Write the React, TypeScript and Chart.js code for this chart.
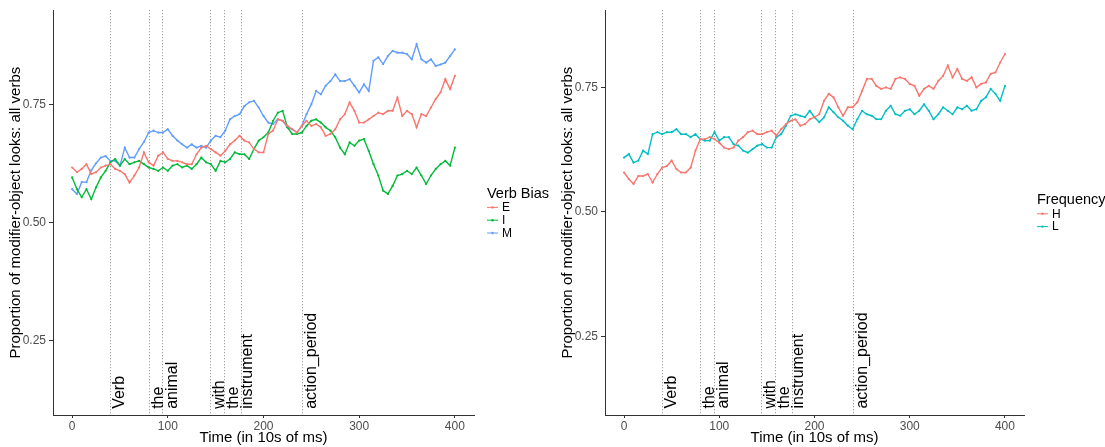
import React, { useEffect, useRef } from "react";
import { Chart, registerables } from "chart.js";

Chart.register(...registerables);

const FONT = '"Liberation Sans", Arial, Helvetica, sans-serif';

// Time in 10s of ms
const time = [
  0, 5, 10, 15, 20, 25, 30, 35, 40, 45, 50, 55, 60, 65, 70, 75, 80, 85, 90, 95,
  100, 105, 110, 115, 120, 125, 130, 135, 140, 145, 150, 155, 160, 165, 170, 175, 180, 185, 190, 195,
  200, 205, 210, 215, 220, 225, 230, 235, 240, 245, 250, 255, 260, 265, 270, 275, 280, 285, 290, 295,
  300, 305, 310, 315, 320, 325, 330, 335, 340, 345, 350, 355, 360, 365, 370, 375, 380, 385, 390, 395, 400,
];

// Left panel: Verb Bias
const biasE = [
  0.616, 0.606, 0.613, 0.623, 0.602, 0.606, 0.616, 0.62, 0.623, 0.613, 0.609, 0.602, 0.584, 0.599, 0.616, 0.648, 0.627, 0.62, 0.641, 0.648,
  0.634, 0.63, 0.63, 0.627, 0.623, 0.623, 0.644, 0.658, 0.662, 0.655, 0.648, 0.641, 0.651, 0.665, 0.673, 0.683, 0.673, 0.669, 0.655, 0.648,
  0.648, 0.687, 0.694, 0.718, 0.715, 0.704, 0.697, 0.69, 0.704, 0.715, 0.704, 0.708, 0.701, 0.683, 0.687, 0.697, 0.718, 0.729, 0.754, 0.736,
  0.711, 0.711, 0.718, 0.725, 0.732, 0.729, 0.736, 0.736, 0.764, 0.725, 0.736, 0.729, 0.701, 0.729, 0.725, 0.743, 0.761, 0.775, 0.803, 0.782, 0.81,
];
const biasI = [
  0.595, 0.57, 0.553, 0.57, 0.549, 0.574, 0.595, 0.609, 0.627, 0.634, 0.62, 0.634, 0.623, 0.627, 0.63, 0.623, 0.616, 0.613, 0.609, 0.616,
  0.609, 0.62, 0.623, 0.616, 0.62, 0.613, 0.623, 0.637, 0.627, 0.623, 0.609, 0.63, 0.627, 0.634, 0.648, 0.644, 0.644, 0.634, 0.655, 0.673,
  0.68, 0.69, 0.715, 0.732, 0.736, 0.701, 0.687, 0.687, 0.69, 0.704, 0.715, 0.718, 0.711, 0.701, 0.694, 0.68, 0.658, 0.644, 0.669, 0.662,
  0.673, 0.676, 0.651, 0.623, 0.599, 0.567, 0.56, 0.577, 0.599, 0.602, 0.609, 0.602, 0.616, 0.599, 0.581, 0.599, 0.613, 0.623, 0.63, 0.62, 0.658,
];
const biasM = [
  0.57, 0.56, 0.585, 0.585, 0.61, 0.625, 0.637, 0.64, 0.63, 0.63, 0.62, 0.658, 0.637, 0.637, 0.655, 0.67, 0.69, 0.694, 0.69, 0.69,
  0.697, 0.683, 0.673, 0.665, 0.658, 0.665, 0.658, 0.662, 0.658, 0.673, 0.683, 0.68, 0.694, 0.718, 0.725, 0.729, 0.746, 0.754, 0.757, 0.743,
  0.725, 0.711, 0.708, 0.718, 0.715, 0.701, 0.697, 0.69, 0.704, 0.729, 0.75, 0.778, 0.771, 0.789, 0.799, 0.813, 0.799, 0.799, 0.803, 0.789,
  0.775, 0.792, 0.778, 0.842, 0.849, 0.835, 0.852, 0.863, 0.859, 0.859, 0.856, 0.845, 0.877, 0.845, 0.838, 0.845, 0.831, 0.834, 0.838, 0.852, 0.866,
];

// Right panel: Frequency
const freqH = [
  0.579, 0.566, 0.556, 0.572, 0.572, 0.576, 0.559, 0.576, 0.589, 0.592, 0.603, 0.586, 0.579, 0.579, 0.589, 0.623, 0.646, 0.646, 0.65, 0.646,
  0.639, 0.629, 0.626, 0.629, 0.643, 0.65, 0.66, 0.663, 0.656, 0.656, 0.66, 0.663, 0.653, 0.666, 0.676, 0.683, 0.686, 0.673, 0.676, 0.686,
  0.69, 0.696, 0.723, 0.737, 0.73, 0.71, 0.693, 0.71, 0.71, 0.72, 0.743, 0.767, 0.767, 0.753, 0.747, 0.75, 0.747, 0.767, 0.77, 0.767,
  0.757, 0.753, 0.733, 0.747, 0.753, 0.747, 0.763, 0.773, 0.794, 0.77, 0.787, 0.767, 0.763, 0.77, 0.75, 0.757, 0.76, 0.777, 0.78, 0.8, 0.817,
];
const freqL = [
  0.609, 0.616, 0.599, 0.603, 0.623, 0.616, 0.656, 0.66, 0.656, 0.66, 0.66, 0.666, 0.656, 0.656, 0.65, 0.656, 0.646, 0.643, 0.643, 0.66,
  0.643, 0.65, 0.65, 0.636, 0.633, 0.623, 0.619, 0.626, 0.633, 0.636, 0.629, 0.629, 0.65, 0.656, 0.673, 0.693, 0.696, 0.693, 0.69, 0.703,
  0.69, 0.68, 0.69, 0.71, 0.7, 0.69, 0.683, 0.673, 0.666, 0.686, 0.703, 0.696, 0.693, 0.686, 0.686, 0.703, 0.713, 0.696, 0.693, 0.703,
  0.706, 0.696, 0.703, 0.716, 0.703, 0.686, 0.696, 0.71, 0.703, 0.696, 0.71, 0.706, 0.713, 0.703, 0.706, 0.723, 0.73, 0.747, 0.737, 0.723, 0.753,
];

const xTicks = [0, 100, 200, 300, 400];
const yTicks = [0.25, 0.5, 0.75];
const markerTimes = [40, 80, 94, 144, 159, 176, 240];
const markerAnchors = [40, 80, 144, 240];
const markerTexts = [["Verb"], ["the", "animal"], ["with", "the", "instrument"], ["action_period"]];
const markerTextY = 0.105;

const xTitle = "Time (in 10s of ms)";
const yTitle = "Proportion of modifier-object looks: all verbs";

type Series = { label: string; color: string; values: number[] };

type PanelProps = {
  width: number;
  rightPad: number;
  yMin: number;
  yMax: number;
  legendTitle: string;
  series: Series[];
};

function Panel({ width, rightPad, yMin, yMax, legendTitle, series }: PanelProps) {
  const ref = useRef<HTMLCanvasElement | null>(null);

  useEffect(() => {
    const canvas = ref.current;
    if (!canvas) return;

    const plugin = {
      id: "decor",
      beforeDatasetsDraw(chart: any) {
        const { ctx, chartArea, scales } = chart;
        const x = scales.x;
        ctx.save();
        ctx.strokeStyle = "#8c8c8c";
        ctx.lineWidth = 1;
        ctx.setLineDash([1, 2]);
        markerTimes.forEach((t) => {
          const px = Math.round(x.getPixelForValue(t)) + 0.5;
          ctx.beginPath();
          ctx.moveTo(px, chartArea.top);
          ctx.lineTo(px, chartArea.bottom);
          ctx.stroke();
        });
        ctx.restore();
      },
      afterDatasetsDraw(chart: any) {
        const { ctx, scales } = chart;
        const x = scales.x;
        const y = scales.y;
        ctx.save();
        ctx.fillStyle = "#000";
        ctx.font = `16px ${FONT}`;
        ctx.textAlign = "left";
        ctx.textBaseline = "alphabetic";
        const py = y.getPixelForValue(markerTextY);
        markerAnchors.forEach((a, i) => {
          markerTexts[i].forEach((line, j) => {
            const px = x.getPixelForValue(a) + 14 + j * 14;
            ctx.save();
            ctx.translate(px, py);
            ctx.rotate(-Math.PI / 2);
            ctx.fillText(line, 0, 0);
            ctx.restore();
          });
        });
        ctx.restore();
      },
      afterDraw(chart: any) {
        const { ctx, chartArea } = chart;
        const x0 = chartArea.right + 13;
        const rowH = 12.8;
        const total = 14 + series.length * rowH;
        const center = (chartArea.top + chartArea.bottom) / 2;
        const top = center - total / 2;
        const titleBase = top + 11.5;
        ctx.save();
        ctx.fillStyle = "#000";
        ctx.font = `14.5px ${FONT}`;
        ctx.textAlign = "left";
        ctx.textBaseline = "alphabetic";
        ctx.fillText(legendTitle, x0, titleBase);
        ctx.font = `12px ${FONT}`;
        ctx.textBaseline = "middle";
        series.forEach((s, i) => {
          const cy = titleBase + 9.5 + i * rowH;
          ctx.strokeStyle = s.color;
          ctx.lineWidth = 1;
          ctx.beginPath();
          ctx.moveTo(x0, cy);
          ctx.lineTo(x0 + 11, cy);
          ctx.stroke();
          ctx.fillStyle = s.color;
          ctx.beginPath();
          ctx.arc(x0 + 5.5, cy, 1.2, 0, Math.PI * 2);
          ctx.fill();
          ctx.fillStyle = "#000";
          ctx.fillText(s.label, x0 + 15, cy + 0.5);
        });
        ctx.restore();
      },
    };

    const chart = new Chart(canvas, {
      type: "line",
      data: {
        datasets: series.map((s) => ({
          label: s.label,
          data: time.map((t, i) => ({ x: t, y: s.values[i] })),
          borderColor: s.color,
          backgroundColor: s.color,
          borderWidth: 1.4,
          pointRadius: 1.1,
          pointBorderWidth: 0,
          pointHoverRadius: 0,
          tension: 0,
        })),
      },
      options: {
        responsive: false,
        animation: false,
        events: [],
        layout: { padding: { left: 0, right: rightPad, top: 9, bottom: 0 } },
        plugins: { legend: { display: false }, tooltip: { enabled: false } },
        scales: {
          x: {
            type: "linear",
            min: -20,
            max: 420,
            afterBuildTicks: (axis: any) => {
              axis.ticks = xTicks.map((v) => ({ value: v }));
            },
            afterFit: (axis: any) => {
              axis.height = 32;
            },
            ticks: {
              font: { family: FONT, size: 12 },
              color: "#4d4d4d",
              padding: 1,
              maxRotation: 0,
              autoSkip: false,
            },
            grid: {
              display: true,
              drawOnChartArea: false,
              drawTicks: true,
              tickLength: 3,
              tickColor: "#333",
            },
            border: { display: true, color: "#333", width: 1 },
            title: {
              display: true,
              text: xTitle,
              color: "#000",
              font: { family: FONT, size: 15 },
              padding: { top: 0, bottom: 0 },
            },
          },
          y: {
            type: "linear",
            min: yMin,
            max: yMax,
            afterBuildTicks: (axis: any) => {
              axis.ticks = yTicks.map((v) => ({ value: v }));
            },
            afterFit: (axis: any) => {
              axis.width = 53;
            },
            ticks: {
              font: { family: FONT, size: 12 },
              color: "#4d4d4d",
              padding: 3,
              callback: (v: any) => Number(v).toFixed(2),
            },
            grid: {
              display: true,
              drawOnChartArea: false,
              drawTicks: true,
              tickLength: 4,
              tickColor: "#333",
            },
            border: { display: true, color: "#333", width: 1 },
            title: {
              display: true,
              text: yTitle,
              color: "#000",
              font: { family: FONT, size: 15 },
              padding: { top: 7, bottom: 0 },
            },
          },
        },
      },
      plugins: [plugin],
    } as any);

    return () => chart.destroy();
  }, []);

  return <canvas ref={ref} width={width} height={447} style={{ display: "block" }} />;
}

export default function App() {
  useEffect(() => {
    document.body.style.margin = "0";
  }, []);
  return (
    <div style={{ display: "flex", width: 1105, height: 447, background: "#fff" }}>
      <Panel
        width={552}
        rightPad={78}
        yMin={0.092}
        yMax={0.949}
        legendTitle="Verb Bias"
        series={[
          { label: "E", color: "#F8766D", values: biasE },
          { label: "I", color: "#00BA38", values: biasI },
          { label: "M", color: "#619CFF", values: biasM },
        ]}
      />
      <Panel
        width={553}
        rightPad={81}
        yMin={0.092}
        yMax={0.905}
        legendTitle="Frequency"
        series={[
          { label: "H", color: "#F8766D", values: freqH },
          { label: "L", color: "#00BFC4", values: freqL },
        ]}
      />
    </div>
  );
}
